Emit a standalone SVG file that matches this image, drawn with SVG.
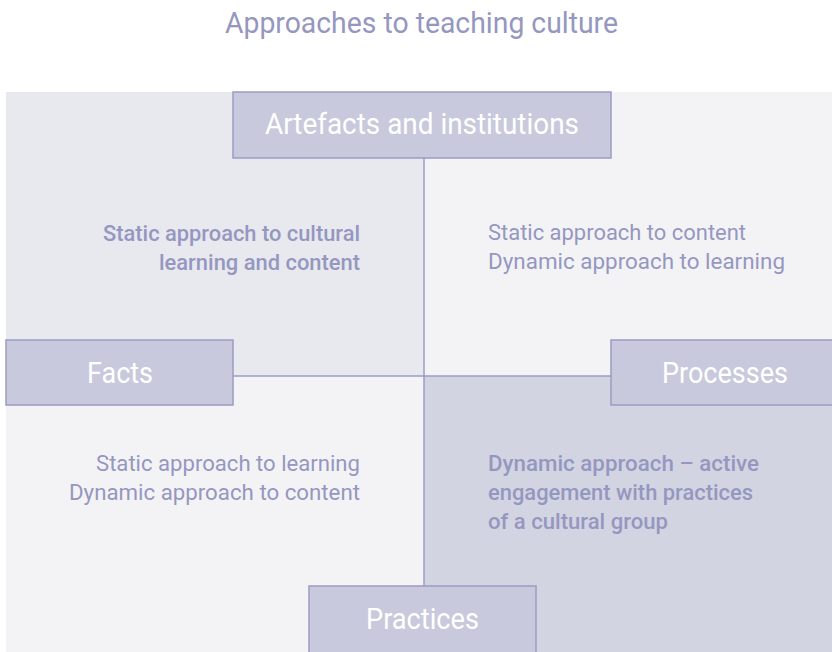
<svg xmlns="http://www.w3.org/2000/svg" width="832" height="652" viewBox="0 0 832 652">
<style>
.q1{fill:#e8e9ef}.q2{fill:#f3f3f6}.q4{fill:#d3d4e2}
.box{fill:#c8c9dc;stroke:#9a9cc4;stroke-width:1.5}
.conn{stroke:#9a9cc4;stroke-width:1.5;fill:none}
.lbl{font-family:Roboto,"Liberation Sans",Arial,sans-serif;font-size:30px;fill:#ffffff;text-anchor:middle}
.t{font-family:Roboto,"Liberation Sans",Arial,sans-serif;font-size:22px;fill:#9597c0}
.b{font-weight:500}
.r{text-anchor:end}
.title{font-family:Roboto,"Liberation Sans",Arial,sans-serif;font-size:29px;fill:#9597c0}
</style>
<rect width="832" height="652" fill="#ffffff"/>
<text class="title" x="225" y="33" textLength="393" lengthAdjust="spacingAndGlyphs">Approaches to teaching culture</text>
<g id="quadrants">
<rect class="q1" x="6" y="92" width="418" height="284"/>
<rect class="q2" x="424" y="92" width="408" height="284"/>
<rect class="q2" x="6" y="376" width="418" height="276"/>
<rect class="q4" x="424" y="376" width="408" height="276"/>
</g>
<g id="connectors">
<line class="conn" x1="424" y1="158" x2="424" y2="586"/>
<line class="conn" x1="233" y1="376" x2="611" y2="376"/>
</g>
<g id="artefacts">
<rect class="box" x="233" y="92" width="378" height="66"/>
<text class="lbl" x="422" y="134" textLength="314" lengthAdjust="spacingAndGlyphs">Artefacts and institutions</text>
</g>
<g id="facts">
<rect class="box" x="6" y="340" width="227" height="65"/>
<text class="lbl" x="120" y="383" textLength="66" lengthAdjust="spacingAndGlyphs">Facts</text>
</g>
<g id="processes">
<rect class="box" x="611" y="340" width="230" height="65"/>
<text class="lbl" x="725" y="383" textLength="126" lengthAdjust="spacingAndGlyphs">Processes</text>
</g>
<g id="practices">
<rect class="box" x="309" y="586" width="227" height="70"/>
<text class="lbl" x="422.5" y="629" textLength="113" lengthAdjust="spacingAndGlyphs">Practices</text>
</g>
<g id="tl-text">
<text class="t b r" x="360" y="241" textLength="257" lengthAdjust="spacingAndGlyphs">Static approach to cultural</text>
<text class="t b r" x="360" y="270" textLength="201" lengthAdjust="spacingAndGlyphs">learning and content</text>
</g>
<g id="tr-text">
<text class="t" x="488" y="240" textLength="258" lengthAdjust="spacingAndGlyphs">Static approach to content</text>
<text class="t" x="488" y="269" textLength="297" lengthAdjust="spacingAndGlyphs">Dynamic approach to learning</text>
</g>
<g id="bl-text">
<text class="t r" x="360" y="471" textLength="264" lengthAdjust="spacingAndGlyphs">Static approach to learning</text>
<text class="t r" x="360" y="500" textLength="291" lengthAdjust="spacingAndGlyphs">Dynamic approach to content</text>
</g>
<g id="br-text">
<text class="t b" x="488" y="471" textLength="271" lengthAdjust="spacingAndGlyphs">Dynamic approach – active</text>
<text class="t b" x="488" y="500" textLength="265" lengthAdjust="spacingAndGlyphs">engagement with practices</text>
<text class="t b" x="488" y="529" textLength="180" lengthAdjust="spacingAndGlyphs">of a cultural group</text>
</g>
</svg>
